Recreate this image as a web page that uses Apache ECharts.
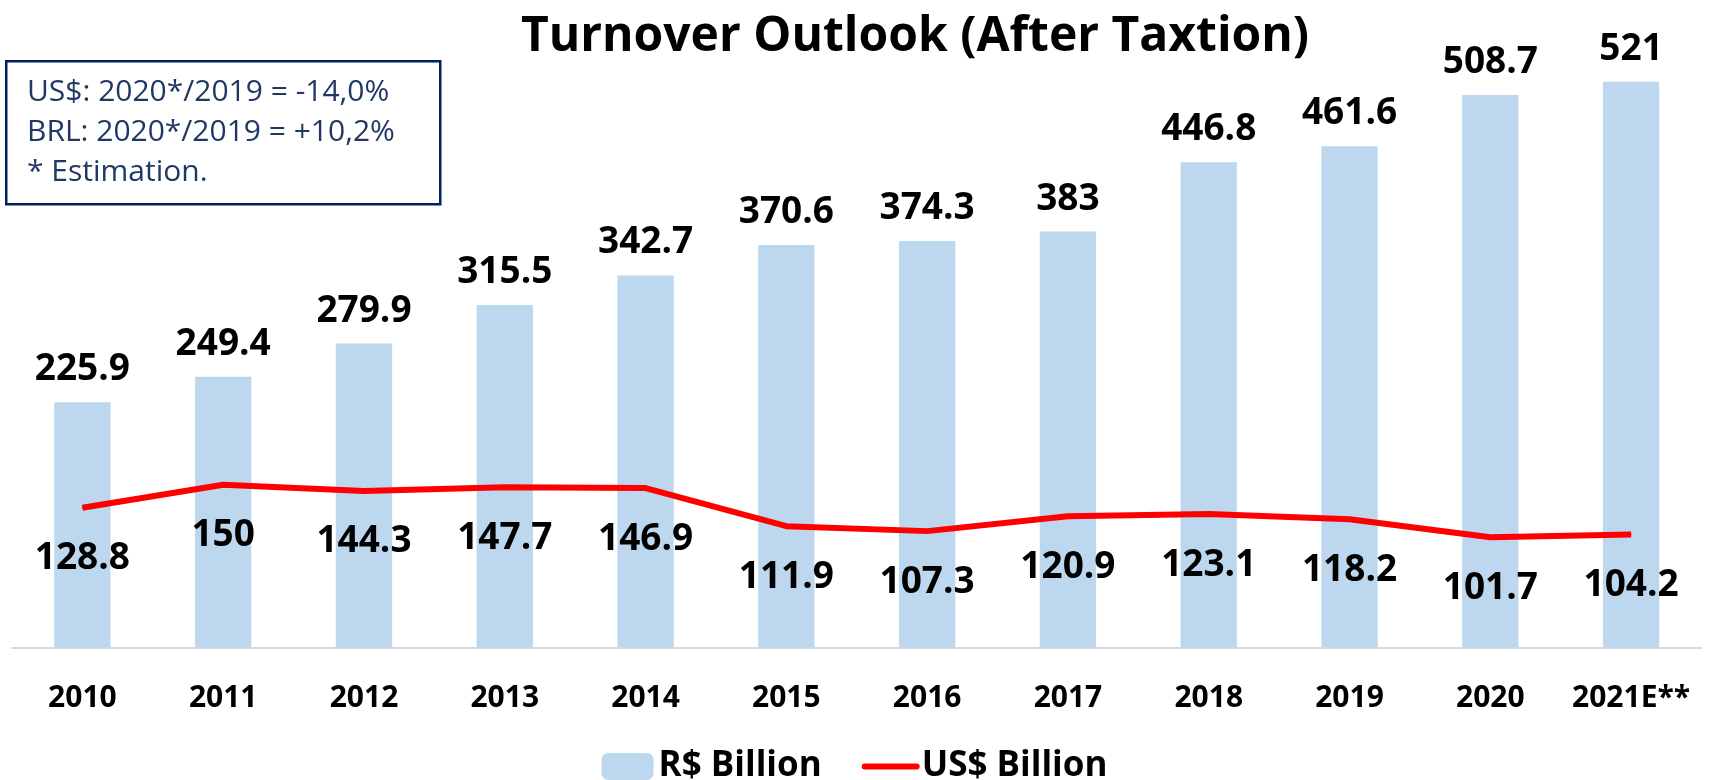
<!DOCTYPE html>
<html>
<head>
<meta charset="utf-8">
<script src="https://cdn.jsdelivr.net/npm/echarts@6/dist/echarts.min.js"></script>
<style>
html,body{margin:0;padding:0;background:#fff;}
#chart{width:1709px;height:780px;}
</style>
</head>
<body>
<div id="chart"></div>
<script>
const years = ['2010','2011','2012','2013','2014','2015','2016','2017','2018','2019','2020','2021E**'];
const brlBillion = [225.9,249.4,279.9,315.5,342.7,370.6,374.3,383,446.8,461.6,508.7,521];
const usdBillion = [128.8,150,144.3,147.7,146.9,111.9,107.3,120.9,123.1,118.2,101.7,104.2];
const noteLines = ['US$: 2020*/2019 = -14,0%','BRL: 2020*/2019 = +10,2%','* Estimation.'];

const FONT = '"Open Sans", "Noto Sans", sans-serif';
const chart = echarts.init(document.getElementById('chart'));
chart.setOption({
  animation: false,
  backgroundColor: '#ffffff',
  textStyle: { fontFamily: FONT },
  title: {
    text: 'Turnover Outlook (After Taxtion)',
    left: 910, top: 8, textAlign: 'center',
    textStyle: { fontFamily: FONT, fontWeight: 'bold', fontSize: 48, color: '#000' }
  },
  legend: {
    top: 744, left: 'center',
    itemWidth: 52, itemHeight: 27, itemGap: 40,
    textStyle: { fontFamily: FONT, fontWeight: 'bold', fontSize: 35, color: '#000' },
    data: [
      { name: 'R$ Billion' },
      { name: 'US$ Billion', itemStyle: { opacity: 0 }, lineStyle: { width: 6, cap: 'round' } }
    ]
  },
  grid: { left: 12, right: 7.5, top: 39.3, bottom: 132.3 },
  xAxis: {
    type: 'category', data: years,
    axisLine: { lineStyle: { color: '#D9D9D9', width: 2 } },
    axisTick: { show: false },
    axisLabel: { fontFamily: FONT, fontWeight: 'bold', fontSize: 30, color: '#000', margin: 36, interval: 0 }
  },
  yAxis: {
    type: 'value', min: 0, max: 560,
    show: false, splitLine: { show: false }
  },
  series: [
    {
      name: 'R$ Billion', type: 'bar', data: brlBillion, barWidth: '40%',
      itemStyle: { color: '#BDD7EE' },
      label: { show: true, position: 'top', distance: 14, fontFamily: FONT, fontWeight: 'bold', fontSize: 37, color: '#000' }
    },
    {
      name: 'US$ Billion', type: 'line', data: usdBillion,
      symbol: 'circle', symbolSize: 1, showSymbol: true,
      lineStyle: { color: '#FF0000', width: 6 },
      itemStyle: { color: '#FF0000' },
      label: { show: true, position: 'bottom', distance: 32, fontFamily: FONT, fontWeight: 'bold', fontSize: 37, color: '#000' }
    }
  ],
  graphic: [
    {
      type: 'rect', left: 5, top: 60,
      shape: { x: 0, y: 0, width: 434, height: 143 },
      style: { fill: '#ffffff', stroke: '#002060', lineWidth: 2.5 },
      z: 10
    },
    {
      type: 'text', left: 27, top: 72, z: 11,
      style: {
        text: noteLines.join('\n'),
        fontFamily: FONT, fontSize: 30, lineHeight: 40, fill: '#1F3864'
      }
    }
  ]
});
</script>
</body>
</html>
